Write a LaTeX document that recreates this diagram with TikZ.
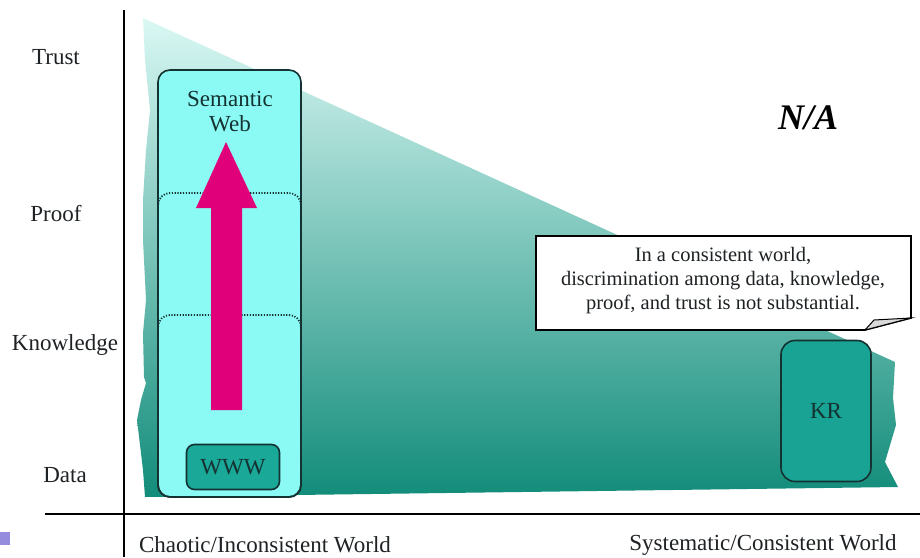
\documentclass[tikz,border=0pt]{standalone}
\usepackage{fontspec}
\setmainfont{Liberation Serif}
\usetikzlibrary{shapes.geometric}
\definecolor{inkdark}{RGB}{30,34,36}
\definecolor{boxline}{RGB}{20,50,50}
\definecolor{swfill}{RGB}{140,250,244}
\definecolor{tealbox}{RGB}{26,168,152}
\definecolor{krbox}{RGB}{24,163,148}
\definecolor{magentaarrow}{RGB}{224,0,122}
\definecolor{shadetop}{RGB}{218,248,244}
\definecolor{shademid}{RGB}{104,198,186}
\definecolor{shadebot}{RGB}{18,140,122}
\definecolor{lavender}{RGB}{150,140,222}
\tikzset{
  axislabel/.style={font=\fontsize{23}{27}\selectfont, text=inkdark, inner sep=0pt},
  boxtext/.style={font=\fontsize{23}{27}\selectfont, text=boxline, inner sep=0pt, align=center},
  roundbox/.style={draw=boxline, line width=1.6pt, rounded corners=12pt},
  dotbox/.style={draw=boxline, line width=1.8pt, dash pattern=on 1.2pt off 1.6pt, rounded corners=12pt},
  axisline/.style={draw=black, line width=1.8pt},
}
\begin{document}
\begin{tikzpicture}[x=1pt, y=-1pt]
\useasboundingbox (0,0) rectangle (920,557);

% shaded wedge behind everything
\shade[top color=shadetop, middle color=shademid, bottom color=shadebot]
  (143,18) -- (895,362) -- (893,398) -- (896,425) -- (885,462) -- (898,487)
  -- (145,497) -- (143,470) -- (137,420) -- (141,400) -- (146,383) -- (144,377)
  -- (143,333) -- (146,300) -- (143,240) -- (143,200) -- (146,150) -- (150,110)
  -- (145,60) -- cycle;

% axes
\draw[axisline] (124,10) -- (124,557);
\draw[axisline] (45,514) -- (920,514);

% vertical axis labels
\node[axislabel] (trust) at (56,57) {Trust};
\node[axislabel] (proof) at (56,214) {Proof};
\node[axislabel] (knowledge) at (65,345) {Knowledge};
\node[axislabel] (data) at (65,475) {Data};

% horizontal axis labels
\node[axislabel] (chaotic) at (265,545) {Chaotic/Inconsistent World};
\node[axislabel] (systematic) at (763,545) {Systematic/Consistent World};

% small marker in the corner
\fill[lavender] (0,532) rectangle (10,545);

% Semantic Web column
\path[roundbox, fill=swfill] (158,70) rectangle (301,497);
\path[dotbox] (158,193) rectangle (301,497);
\path[dotbox] (158,315) rectangle (301,497);
\node[boxtext, text width=140pt] (sw) at (230,112) {Semantic\\[-2pt]Web};

% upward arrow
\fill[magentaarrow] (211,410) -- (242,410) -- (242,208) -- (257,208) -- (226,142)
  -- (196,208) -- (211,208) -- cycle;

% WWW box
\node[roundbox, fill=tealbox, rounded corners=8pt, minimum width=93pt, minimum height=45pt,
  font=\fontsize{23}{27}\selectfont, text=boxline, inner sep=0pt] (www) at (233,467) {WWW};

% KR box
\node[roundbox, fill=krbox, rounded corners=14pt, minimum width=90pt, minimum height=141pt,
  font=\fontsize{23}{27}\selectfont, text=boxline, inner sep=0pt] (kr) at (826,411) {KR};

% N/A label
\node[inner sep=0pt, font=\fontsize{36}{40}\selectfont\bfseries\itshape, text=black] (na) at (808,118) {N/A};

% callout with a folded corner
\draw[line width=1.6pt, fill=white] (536,236) -- (911,236) -- (911,318) -- (865,330)
  -- (536,330) -- cycle;
\draw[line width=1pt, fill=black!15] (865,330) -- (874,320) -- (911,318) -- cycle;
\node[inner sep=0pt, align=center, text=inkdark, font=\fontsize{20.5}{24}\selectfont]
  (note) at (723,281) {In a consistent world,\\discrimination among data, knowledge,\\proof, and trust is not substantial.};
\end{tikzpicture}
\end{document}
